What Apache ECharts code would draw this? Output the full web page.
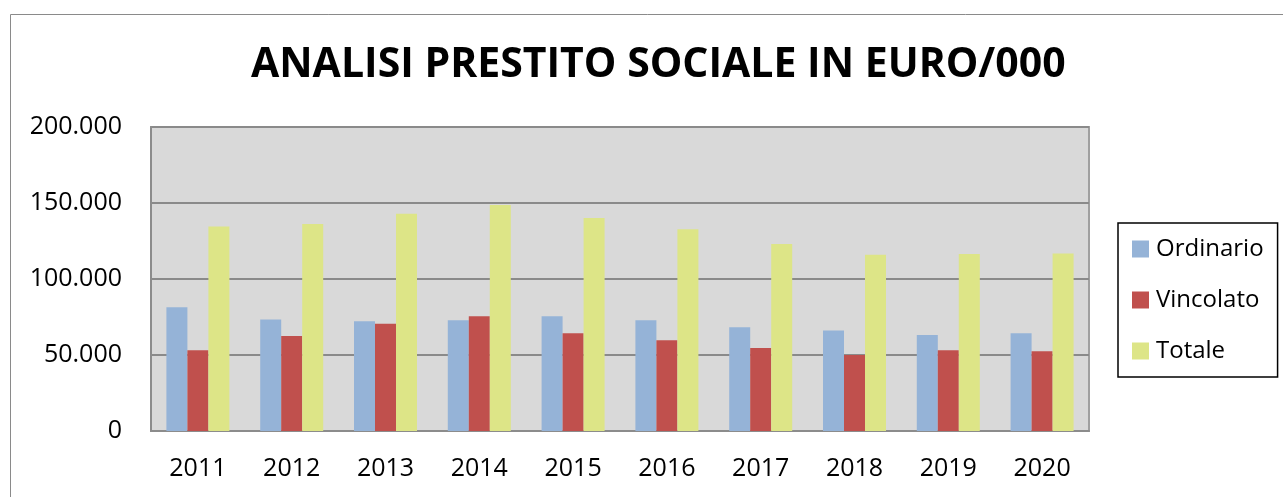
<!DOCTYPE html>
<html>
<head>
<meta charset="utf-8">
<script src="https://cdn.jsdelivr.net/npm/echarts@6/dist/echarts.min.js"></script>
<style>
  html, body { margin: 0; padding: 0; background: #fff; }
  #chart { width: 1283px; height: 497px; }
</style>
</head>
<body>
<div id="chart"></div>
<script>
// dati (euro/000)
const anni = ["2011", "2012", "2013", "2014", "2015", "2016", "2017", "2018", "2019", "2020"];
const ordinario = [81400, 73300, 72200, 72800, 75500, 72800, 68200, 66200, 63200, 64300];
const vincolato = [53100, 62500, 70600, 75500, 64300, 59700, 54600, 50000, 53100, 52400];
const totale = [134500, 136200, 143000, 148700, 140100, 132700, 123000, 116000, 116400, 116700];
const nomiSerie = ["Ordinario", "Vincolato", "Totale"];
const colori = ["#95B3D7", "#C0504D", "#DDE587"];

const chart = echarts.init(document.getElementById("chart"));

const fmt = (v) => String(v).replace(/\B(?=(\d{3})+(?!\d))/g, ".");

const option = {
    backgroundColor: "#fff",
    color: colori,
    animation: false,
    textStyle: { fontFamily: "Open Sans" },
    title: {
        text: "ANALISI PRESTITO SOCIALE IN EURO/000",
        left: 246,
        top: 40,
        textStyle: {
            fontFamily: "Open Sans",
            fontWeight: "bold",
            fontSize: 41,
            color: "#000",
        },
    },
    graphic: [
        {
            type: "rect",
            shape: { x: 10.5, y: 14.5, width: 1300, height: 600 },
            style: { fill: "none", stroke: "#8a8a8a", lineWidth: 1 },
            silent: true,
        },
    ],
    grid: {
        left: 151,
        right: 194,
        top: 127,
        bottom: 66,
        show: true,
        backgroundColor: "#D9D9D9",
        borderColor: "#a0a0a0",
        borderWidth: 2,
    },
    legend: {
        data: nomiSerie,
        orient: "vertical",
        left: 1118,
        top: 223,
        padding: [14, 14, 14, 14],
        itemWidth: 17,
        itemHeight: 17,
        itemGap: 27,
        borderColor: "#000",
        borderWidth: 1.5,
        icon: "rect",
        textStyle: {
            fontFamily: "Open Sans",
            fontSize: 24,
            color: "#000",
            padding: [0, 0, 0, 2],
        },
    },
    xAxis: {
        type: "category",
        data: anni,
        axisLine: { lineStyle: { color: "#8c8c8c", width: 2 } },
        axisTick: { show: false },
        axisLabel: {
            color: "#000",
            fontSize: 25,
            margin: 25,
        },
    },
    yAxis: {
        type: "value",
        min: 0,
        max: 200000,
        interval: 50000,
        axisLine: { show: true, lineStyle: { color: "#8c8c8c", width: 2 } },
        axisTick: { show: false },
        axisLabel: {
            color: "#000",
            fontSize: 25,
            margin: 29,
            formatter: fmt,
        },
        splitLine: {
            lineStyle: { color: "#8a8a8a", width: 2 },
        },
    },
    series: [ordinario, vincolato, totale].map((dati, i) => ({
        name: nomiSerie[i],
        type: "bar",
        data: dati,
        barWidth: 21,
        barGap: "0%",
        itemStyle: { color: colori[i] },
    })),
};

chart.setOption(option);
</script>
</body>
</html>
